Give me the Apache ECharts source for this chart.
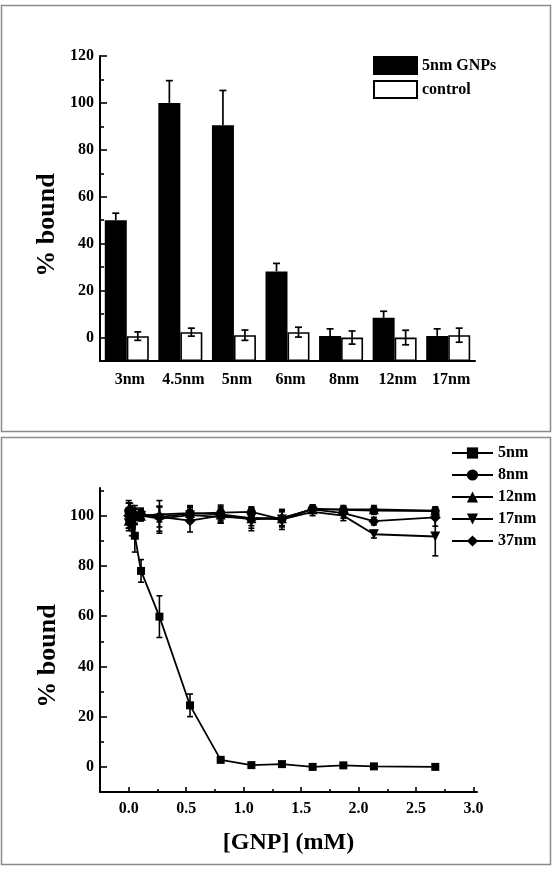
<!DOCTYPE html>
<html>
<head>
<meta charset="utf-8">
<script src="https://cdn.jsdelivr.net/npm/echarts@6/dist/echarts.min.js"></script>
<style>
    html, body { margin: 0; padding: 0; background: #fff; }
    #chart { width: 555px; height: 870px; }
</style>
</head>
<body>
<div id="chart"></div>
<script>
// 上图：不同粒径的结合率
var sizes = ["3nm", "4.5nm", "5nm", "6nm", "8nm", "12nm", "17nm"];
var gnpBound = [50, 100, 90.5, 28.2, 0.7, 8.4, 0.7];
var gnpErr = [3, 9.5, 14.8, 3.4, 3, 2.8, 3];
var ctrlBound = [0.6, 2.3, 1.0, 2.3, 0, 0, 1.0];
var ctrlErr = [1.8, 1.7, 2.2, 2.1, 2.8, 3.1, 3.0];
var barYLabels = [0, 20, 40, 60, 80, 100, 120];
var barYMinor = [10, 30, 50, 70, 90, 110];

// 下图：浓度曲线
var gnpConc = [0, 0.013, 0.027, 0.053, 0.107, 0.267, 0.533, 0.8, 1.067, 1.333, 1.6, 1.867, 2.133, 2.667];
var bound5 = [101, 99, 96, 92, 78, 59.8, 24.5, 2.8, 0.7, 1.1, 0, 0.6, 0.2, 0];
var err5 = [4, 4, 4, 6.5, 4.5, 8.3, 4.5, 1, 0.5, 0.5, 0.5, 0.5, 0.5, 0.5];
var bound8 = [102, 100.5, 101, 99.5, 100.5, 99.5, 100.8, 101.2, 101.5, 98.5, 102.8, 102.3, 102, 101.8];
var err8 = [4, 3, 3, 3, 2.5, 4, 3, 3, 2, 3, 1.5, 1.5, 1.5, 1.5];
var bound12 = [98, 99, 100, 101, 100, 100.5, 101, 100.5, 99, 99, 102.5, 102.5, 102.5, 102];
var err12 = [3, 3, 3, 3, 2, 3, 3, 3, 3, 3, 1.5, 1.5, 1.5, 1.5];
var bound17 = [97, 99, 98, 99.5, 100, 98.8, 100.2, 99.5, 99, 98.5, 101.5, 100, 92.6, 91.7];
var err17 = [3, 4, 4, 3, 2, 5, 3, 2.5, 4, 4, 1.5, 2, 1.5, 7.7];
var bound37 = [100, 101, 99.5, 100, 100.5, 99.5, 98, 100, 98.5, 99, 102.5, 101, 97.8, 99.3];
var err37 = [5, 4, 3, 3, 2, 6.5, 4.5, 3, 4.5, 3, 1.5, 2, 1.5, 3.5];
var lineYLabels = [0, 20, 40, 60, 80, 100];
var lineYMinor = [-10, 10, 30, 50, 70, 90, 110];
var lineXLabels = [0, 0.5, 1, 1.5, 2, 2.5, 3];
var lineXMinor = [0.25, 0.75, 1.25, 1.75, 2.25, 2.75];

var FONT = "'Liberation Serif', 'DejaVu Serif', serif";
var chart = echarts.init(document.getElementById("chart"));

// 误差线（柱状图）：dx 为柱子中心偏移，both 表示是否画下半段
function barErrorSeries(values, errs, dx, both) {
    var data = values.map(function (v, i) { return [i, v, errs[i]]; });
    return {
        type: "custom",
        xAxisIndex: 0,
        yAxisIndex: 0,
        silent: true,
        z: 5,
        data: data,
        renderItem: function (params, api) {
            var c = api.coord([api.value(0), api.value(1)]);
            var hi = api.coord([api.value(0), api.value(1) + api.value(2)]);
            var lo = api.coord([api.value(0), api.value(1) - api.value(2)]);
            var x = c[0] + dx, w = 3.5;
            var style = { stroke: "#000", lineWidth: 1.7 };
            var kids = [
                { type: "line", shape: { x1: x, y1: c[1], x2: x, y2: hi[1] }, style: style },
                { type: "line", shape: { x1: x - w, y1: hi[1], x2: x + w, y2: hi[1] }, style: style }
            ];
            if (both) {
                kids.push({ type: "line", shape: { x1: x, y1: c[1], x2: x, y2: lo[1] }, style: style });
                kids.push({ type: "line", shape: { x1: x - w, y1: lo[1], x2: x + w, y2: lo[1] }, style: style });
            }
            return { type: "group", children: kids };
        }
    };
}

// 误差线（折线图）
function lineErrorSeries(values, errs) {
    var data = values.map(function (v, i) { return [gnpConc[i], v, errs[i]]; });
    return {
        type: "custom",
        xAxisIndex: 1,
        yAxisIndex: 2,
        silent: true,
        z: 1,
        data: data,
        renderItem: function (params, api) {
            var hi = api.coord([api.value(0), api.value(1) + api.value(2)]);
            var lo = api.coord([api.value(0), api.value(1) - api.value(2)]);
            var w = 3;
            var style = { stroke: "#000", lineWidth: 1.6 };
            return {
                type: "group",
                children: [
                    { type: "line", shape: { x1: hi[0], y1: hi[1], x2: lo[0], y2: lo[1] }, style: style },
                    { type: "line", shape: { x1: hi[0] - w, y1: hi[1], x2: hi[0] + w, y2: hi[1] }, style: style },
                    { type: "line", shape: { x1: lo[0] - w, y1: lo[1], x2: lo[0] + w, y2: lo[1] }, style: style }
                ]
            };
        }
    };
}

function lineSeries(name, values, symbol, size, rotate) {
    return {
        name: name,
        type: "line",
        xAxisIndex: 1,
        yAxisIndex: 2,
        data: values.map(function (v, i) { return [gnpConc[i], v]; }),
        symbol: symbol,
        symbolSize: size,
        symbolRotate: rotate || 0,
        z: 3,
        lineStyle: { color: "#000", width: 1.8 },
        itemStyle: { color: "#000" }
    };
}

function mainLine() {
    return { show: true, onZero: false, lineStyle: { color: "#000", width: 2 } };
}
function ticks(len, values) {
    return { show: true, inside: true, length: len, customValues: values, lineStyle: { color: "#000", width: 1.6 } };
}
var labelStyle = { color: "#000", fontFamily: FONT, fontWeight: "bold", fontSize: 16 };

var option = {
    animation: false,
    backgroundColor: "#fff",
    graphic: [
        { type: "rect", shape: { x: 1.5, y: 5.5, width: 549, height: 426 }, style: { fill: "none", stroke: "#8c8c8c", lineWidth: 1.5 } },
        { type: "rect", shape: { x: 1.5, y: 437.5, width: 549, height: 427 }, style: { fill: "none", stroke: "#8c8c8c", lineWidth: 1.5 } },
        { type: "text", x: 47, y: 225, rotation: Math.PI / 2, style: { text: "% bound", font: "bold 26px " + FONT, align: "center", verticalAlign: "middle", fill: "#000" } },
        { type: "text", x: 48, y: 656, rotation: Math.PI / 2, style: { text: "% bound", font: "bold 26px " + FONT, align: "center", verticalAlign: "middle", fill: "#000" } }
    ],
    legend: [
        {
            data: ["5nm GNPs", "control"],
            orient: "vertical",
            left: 373,
            top: 56,
            padding: 0,
            itemWidth: 43,
            itemHeight: 17,
            itemGap: 5,
            icon: "rect",
            textStyle: labelStyle
        },
        {
            data: ["5nm", "8nm", "12nm", "17nm", "37nm"],
            orient: "vertical",
            left: 451,
            top: 445,
            padding: 0,
            itemWidth: 41,
            itemHeight: 14,
            itemGap: 6,
            textStyle: labelStyle
        }
    ],
    grid: [
        { left: 100, top: 56, width: 375, height: 305 },
        { left: 100, top: 488, width: 377, height: 304 }
    ],
    xAxis: [
        {
            type: "category",
            gridIndex: 0,
            data: sizes,
            boundaryGap: true,
            axisLine: mainLine(),
            axisTick: { show: false },
            axisLabel: Object.assign({ interval: 0, margin: 11, padding: [0, 0, 0, 6] }, labelStyle),
            splitLine: { show: false }
        },
        {
            type: "value",
            gridIndex: 1,
            min: -0.25,
            max: 3.03,
            name: "[GNP] (mM)",
            nameLocation: "middle",
            nameGap: 39,
            nameTextStyle: { color: "#000", fontFamily: FONT, fontWeight: "bold", fontSize: 24 },
            axisLine: mainLine(),
            axisTick: ticks(5, lineXLabels),
            axisLabel: Object.assign({ margin: 9, customValues: lineXLabels, formatter: function (v) { return v.toFixed(1); } }, labelStyle),
            splitLine: { show: false }
        },
        {
            type: "value",
            gridIndex: 1,
            position: "bottom",
            min: -0.25,
            max: 3.03,
            axisLine: { show: false, onZero: false },
            axisTick: ticks(3, lineXMinor),
            axisLabel: { show: false },
            splitLine: { show: false }
        }
    ],
    yAxis: [
        {
            type: "value",
            gridIndex: 0,
            min: -10,
            max: 120,
            startValue: -10,
            axisLine: mainLine(),
            axisTick: ticks(7, barYLabels),
            axisLabel: Object.assign({ margin: 6, customValues: barYLabels }, labelStyle),
            splitLine: { show: false }
        },
        {
            type: "value",
            gridIndex: 0,
            position: "left",
            min: -10,
            max: 120,
            axisLine: { show: false, onZero: false },
            axisTick: ticks(4, barYMinor),
            axisLabel: { show: false },
            splitLine: { show: false }
        },
        {
            type: "value",
            gridIndex: 1,
            min: -10,
            max: 111,
            axisLine: mainLine(),
            axisTick: ticks(7, lineYLabels),
            axisLabel: Object.assign({ margin: 6, customValues: lineYLabels }, labelStyle),
            splitLine: { show: false }
        },
        {
            type: "value",
            gridIndex: 1,
            position: "left",
            min: -10,
            max: 111,
            axisLine: { show: false, onZero: false },
            axisTick: ticks(4, lineYMinor),
            axisLabel: { show: false },
            splitLine: { show: false }
        }
    ],
    series: [
        {
            name: "5nm GNPs",
            type: "bar",
            xAxisIndex: 0,
            yAxisIndex: 0,
            data: gnpBound,
            barWidth: 22,
            barGap: "0%",
            itemStyle: { color: "#000", borderColor: "#000", borderWidth: 1.6 }
        },
        {
            name: "control",
            type: "bar",
            xAxisIndex: 0,
            yAxisIndex: 0,
            data: ctrlBound,
            barWidth: 22,
            barGap: "0%",
            itemStyle: { color: "#fff", borderColor: "#000", borderWidth: 1.6 }
        },
        barErrorSeries(gnpBound, gnpErr, -11, false),
        barErrorSeries(ctrlBound, ctrlErr, 11, true),
        lineErrorSeries(bound5, err5),
        lineErrorSeries(bound8, err8),
        lineErrorSeries(bound12, err12),
        lineErrorSeries(bound17, err17),
        lineErrorSeries(bound37, err37),
        lineSeries("5nm", bound5, "rect", 8),
        lineSeries("8nm", bound8, "circle", 9),
        lineSeries("12nm", bound12, "triangle", 10),
        lineSeries("17nm", bound17, "triangle", 10, 180),
        lineSeries("37nm", bound37, "diamond", 11)
    ]
};

chart.setOption(option);
</script>
</body>
</html>
